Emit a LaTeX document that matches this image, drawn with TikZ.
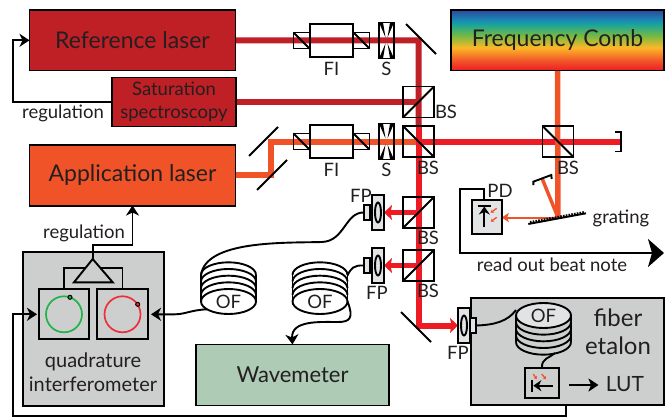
\documentclass[tikz,border=0pt]{standalone}
\usepackage{fontspec}
\setmainfont{Lato}
\usetikzlibrary{arrows.meta,shapes.geometric,backgrounds}
\definecolor{ink}{HTML}{231F20}
\definecolor{refred}{HTML}{BF2026}
\definecolor{appred}{HTML}{F15329}
\definecolor{beamred}{HTML}{ED1C24}
\definecolor{boxgray}{HTML}{CDCFCE}
\definecolor{lightgray}{HTML}{E2E3E5}
\definecolor{wavegreen}{HTML}{AECBB5}
\definecolor{sigreen}{HTML}{22B24C}
\definecolor{sigred}{HTML}{EE2E3A}
\definecolor{cyellow}{HTML}{FDB827}
\definecolor{cgreen}{HTML}{72B944}
\definecolor{cteal}{HTML}{1AA59A}
\definecolor{ccyan}{HTML}{1B87B5}
\definecolor{cblue}{HTML}{2B4A9C}
\pgfdeclareverticalshading{combspectrum}{100bp}{
color(0bp)=(beamred); color(25bp)=(beamred); color(33bp)=(appred);
color(44bp)=(cyellow); color(54bp)=(cgreen); color(63bp)=(cteal);
color(67bp)=(ccyan); color(75bp)=(cblue); color(100bp)=(cblue)}
\newcommand{\coilup}[1]{
\foreach \k in {1,...,4} \draw[wire] ([yshift=\k*6.67pt]#1.west) arc (180:0:27.5pt and 12.5pt);
\draw[wire] (#1.west) -- ++(0,-26.7);
\draw[wire] (#1.east) -- ++(0,-26.7);
}
\newcommand{\coildown}[1]{
\foreach \k in {1,...,4} \draw[wire] ([yshift=-\k*6.67pt]#1.west) arc (180:360:27.5pt and 12.5pt);
\draw[wire] (#1.west) -- ++(0,26.7);
\draw[wire] (#1.east) -- ++(0,26.7);
}
\tikzset{
main/.style = {draw, line width=1.9pt, inner sep=0pt, outer sep=0pt, text=ink},
big/.style = {font=\fontsize{23}{25}\selectfont},
lab/.style = {inner sep=0pt, text=ink, font=\fontsize{18.5}{23}\selectfont},
cube/.style = {main, minimum size=31pt},
iso/.style = {main, minimum size=16pt},
shutter/.style = {main, minimum width=15pt, minimum height=36pt},
isobox/.style = {main, minimum width=43pt, minimum height=33pt},
lens/.style = {main, fill=lightgray, minimum width=12pt, minimum height=35pt},
plug/.style = {main, fill=lightgray, minimum width=6pt, minimum height=15pt},
coil/.style = {main, ellipse, minimum width=55pt, minimum height=25pt, font=\fontsize{18.5}{19}\selectfont},
wire/.style = {line width=1.9pt},
beam/.style = {line width=6pt},
thin/.style = {line width=1.3pt, appred},
tipw/.style = {-{Stealth[length=10pt,width=13pt,inset=3pt]}},
tipr/.style = {-{Stealth[length=8pt,width=15pt,inset=1.5pt]}},
}
\begin{document}
\begin{tikzpicture}[x=1pt, y=-1pt, node distance={10pt}]
\useasboundingbox (0,0) rectangle (672,420);
\node[main, big, fill=refred, minimum width=206pt, minimum height=60.5pt] (ref) at (132.5,40.3) {Reference laser};
\node[main, fill=refred, lab, minimum width=123.5pt, minimum height=49pt, align=center] (sat) at (174,102) {Saturation\\spectroscopy};
\node[main, big, fill=appred, minimum width=206pt, minimum height=60.5pt] (app) at (132.5,175.3) {Application laser};
\node[main, big, shading=combspectrum, minimum width=213.5pt, minimum height=60.5pt] (comb) at (557.5,40.3) {Frequency Comb};
\node[main, fill=wavegreen, minimum width=193pt, minimum height=61pt, font=\fontsize{22}{24}\selectfont] (wave) at (292.5,375) {Wavemeter};
\node[main, fill=boxgray, minimum width=140.5pt, minimum height=154pt] (qi) at (93.5,329) {};
\node[main, fill=boxgray, minimum width=193pt, minimum height=107pt] (etalon) at (567.5,351.5) {};

\node[isobox] (fia) at (331.5,40.5) {};
\node[iso] (isoa) [left of=fia, xshift=-20pt] {};
\node[iso] (isob) [right of=fia, xshift=20pt] {};
\node[shutter] (sa) [right of=fia, xshift=45pt] {};
\node[isobox] (fib) [below of=fia, yshift=-91pt] {};
\node[iso] (isoc) [left of=fib, xshift=-20pt] {};
\node[iso] (isod) [right of=fib, xshift=20pt] {};
\node[shutter] (sb) [right of=fib, xshift=45pt] {};

\node[cube] (bsa) at (418.5,102) {};
\node[cube] (bsb) at (418.5,141.5) {};
\node[cube] (bsc) at (558,141.5) {};
\node[cube] (bsd) at (418.5,212.5) {};
\node[cube] (bse) at (418.5,265.5) {};
\foreach \n in {bsa,bsd,bse} \draw[wire] (\n.south west) -- (\n.north east);
\foreach \n in {bsb,bsc,isoa,isob,isoc,isod} \draw[wire] (\n.north west) -- (\n.south east);
\foreach \n in {sa,sb} {
\fill (\n.north west) -- ++(4,0) -- ++(2.5,15) -- cycle;
\fill (\n.north east) -- ++(-4,0) -- ++(-2.5,15) -- cycle;
\fill (\n.south west) -- ++(4,0) -- ++(2.5,-15) -- cycle;
\fill (\n.south east) -- ++(-4,0) -- ++(-2.5,-15) -- cycle;
}

\node[lens] (fpa) at (378,212.5) {};
\node[lens] (fpb) at (378,265.5) {};
\node[lens] (fpc) at (464,325.5) {};
\node[plug] (cona) [left of=fpa, xshift=-1pt] {};
\node[plug] (conb) [left of=fpb, xshift=-1pt] {};
\node[plug] (conc) [right of=fpc, xshift=-1pt] {};
\foreach \n in {fpa,fpb,fpc} \draw[wire] (\n) ellipse (3pt and 10pt);

\node[coil] (ofa) at (228.5,301.5) {OF};
\node[coil] (ofb) at (320,301.5) {OF};
\node[coil, fill=lightgray] (ofc) at (543.5,315.5) {OF};
\coilup{ofa}
\coilup{ofb}
\coildown{ofc}

\node[main, fill=lightgray, minimum width=30pt, minimum height=34pt] (pd) at (486.7,217) {};
\draw[wire] (477.7,205.7) -- (490.7,205.7);
\draw[wire, -{Stealth[length=8pt,width=11pt]}] (484.3,227.3) -- (484.3,206.5);
\draw[thin, -{Stealth[length=3pt,width=4pt]}] (496.7,208.3) -- (490.7,212.7);
\draw[thin, -{Stealth[length=3pt,width=4pt]}] (496.7,217.3) -- (490.7,221.7);

\node[main, minimum width=34pt, minimum height=30pt] (det) at (542,383.3) {};
\draw[wire] (532.3,380) -- (532.3,391.7);
\draw[wire, -{Stealth[length=8pt,width=11pt]}] (552.7,385.7) -- (533.3,385.7);
\draw[thin, -{Stealth[length=3pt,width=4pt]}] (533.3,374) -- (536.7,379.3);
\draw[thin, -{Stealth[length=3pt,width=4pt]}] (541.7,374) -- (546,379.3);

\node[main, minimum width=50.5pt, minimum height=50pt] (qa) at (64,314.3) {};
\node[main, minimum width=50.5pt, minimum height=50pt] (qb) at (122.5,314.3) {};
\draw[line width=1.7pt, sigreen] (qa) circle (18pt);
\draw[line width=1.7pt, sigred] (qb) circle (18pt);
\draw[line width=1pt, fill=sigreen] (70,297.3) circle (2pt);
\draw[line width=1pt, fill=sigred] (137.7,304.3) circle (2pt);
\coordinate (amp) at (92.7,268.3);
\coordinate (apex) at (92.7,259);
\draw[wire] (qa.north) |- (amp);
\draw[wire] (qb.north) |- (amp);
\draw[wire, fill=boxgray] (apex) -- (112.7,282.3) -- (74,282.3) -- cycle;

\node[lab] (la) at (331.5,68.5) {FI};
\node[lab] (lb) at (331.5,169.5) {FI};
\node[lab] (lc) at (386.5,68.5) {S};
\node[lab] (ld) at (386.5,169.5) {S};
\node[lab] (le) at (446,112) {BS};
\node[lab] (lf) at (428,168) {BS};
\node[lab] (lg) at (568,168) {BS};
\node[lab] (lh) at (428,238) {BS};
\node[lab] (li) at (428,291) {BS};
\node[lab] (lj) at (361,196) {FP};
\node[lab] (lk) at (377,293) {FP};
\node[lab] (ll) at (458,353) {FP};
\node[lab] (lm) at (500,191) {PD};
\node[lab] (ln) at (621,218) {grating};
\node[lab] (lo) at (552,265) {read out beat note};
\node[lab] (lp) at (63,113) {regulation};
\node[lab] (lq) at (84,233) {regulation};
\node[lab, align=center, font=\fontsize{20}{24.5}\selectfont] (lr) at (93,372) {quadrature\\interferometer};
\node[lab, align=center, font=\fontsize{24}{28}\selectfont] (ls) at (618,332) {fiber\\etalon};
\node[lab, font=\fontsize{21}{23}\selectfont] (lut) at (625,384) {LUT};

\draw[wire, tipw] (sat.west) -- (13.3,102) |- (ref.west);
\coordinate (regturn) at (132.5,245);
\draw[wire, tipw] (apex) |- (regturn) -- (app.south);
\coordinate (retb) at (566,416);
\coordinate (qin) at (37,314.3);
\coordinate (qout) at (151,314.3);
\draw[wire, tipw] (etalon.south -| retb) -- (retb) -| (13.3,314.3) -- (qin);
\draw[wire, tipw] (ofa.200) .. controls (191,310) and (185,314.3) .. (175,314.3) -- (qout);
\draw[wire] (cona.west) .. controls (345,212) and (345,241) .. (322,242) .. controls (285,243) and (205,240) .. ([yshift=26pt]ofa.west);
\draw[wire] (conb.west) .. controls (354,265) and (351,268) .. ([yshift=26pt]ofb.east);
\draw[wire, tipw] (ofb.east) .. controls (354,318) and (350,322) .. (338,322) .. controls (320,322) and (291,320) .. (wave.north);
\draw[wire] (conc.east) .. controls (495,325) and (508,321) .. (516,310);
\draw[wire] (det.north) .. controls (541,358) and (550,358) .. (555,353);
\draw[wire, -{Stealth[length=10pt,width=13pt,inset=2.5pt]}] (569,385) -- (598.5,385);

\draw[wire] ([xshift=-2.5pt]pd.north) |- (460,189) |- (650,253);
\coordinate (readtip) at (664,253);
\draw[wire, -{Stealth[length=16pt,width=28pt,inset=4pt]}] (460,253) -- (readtip);

\draw[line width=1.9pt] (615,132) -- (620.7,132) -- (620.7,151.5) -- (615,151.5);
\coordinate (dump) at (620,141.5);
\draw[wire] (249,156) -- (278,127);
\draw[wire] (257,190) -- (287,160);
\draw[wire] (406,24) -- (436,54);
\draw[wire] (401,312) -- (431,342);
\coordinate (gr) at (558,217.5);
\coordinate (stopper) at (542.3,179);
\draw[wire] (528.3,224) -- (586,213.3);
\draw[line width=2.5pt, dash pattern=on 1.6pt off 1.2pt] (530,222.3) -- (585,212.2);
\draw[line width=1.9pt] (533.3,185) -- (533.3,181.7) -- (551.3,175) -- (551.7,179);

\begin{scope}[on background layer]
\draw[beam, refred] (ref.east) -- (418.5,40.5) -- (bsb.north);
\draw[beam, refred] (sat.east) -- (bsa.center);
\draw[beam, appred] (app.east) -- (271,175.3) -- (271,141.5) -- (bsb.center);
\draw[beam, beamred] (bsb.center) -- (dump);
\draw[beam, beamred] (bsb.north) -- (418.5,141.5);
\draw[line width=5pt, beamred, tipr] (bsd.center) -- (fpa.east);
\draw[line width=5pt, beamred, tipr] (bse.center) -- (fpb.east);
\draw[beam, beamred, tipr] (bsb.center) |- (fpc.west);
\draw[line width=5.5pt, appred] (comb.south) -- (gr);
\draw[line width=3.5pt, appred] (gr) -- (stopper);
\draw[line width=2pt, appred, -{Stealth[length=7pt,width=9pt,inset=1.5pt]}] (gr) -- (pd.east |- gr);
\end{scope}
\end{tikzpicture}
\end{document}
